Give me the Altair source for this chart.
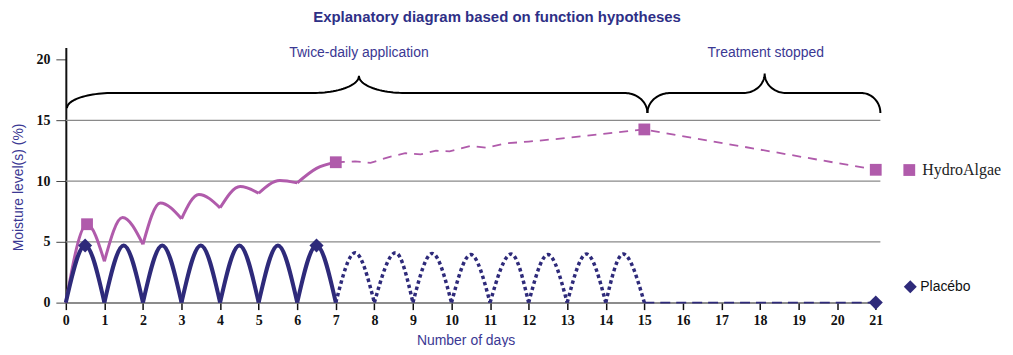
import math
import altair as alt
import pandas as pd

# ---------------- data ----------------
# HydroAlgae, twice-daily application (solid scallops, days 0-7)
hydro_solid_days = [0, 0.55, 1, 1.47, 2, 2.45, 3, 3.45, 4, 4.52, 5, 5.55, 6, 6.5, 7]
hydro_solid_vals = [0, 6.45, 3.4, 7.0, 4.8, 8.2, 6.9, 8.9, 7.8, 9.55, 9.0, 10.05, 9.85, 11.05, 11.55]
# HydroAlgae, continuing (dashed, days 7-21)
hydro_dash_days = [7, 7.5, 7.9, 8.4, 8.8, 9.2, 9.6, 9.95, 10.5, 10.9, 11.4, 12, 13, 14, 15, 21]
hydro_dash_vals = [11.55, 11.62, 11.5, 12.0, 12.3, 12.2, 12.5, 12.45, 12.9, 12.75, 13.1, 13.25, 13.55, 13.9, 14.25, 10.93]
hydro_marker_days = [0.55, 7, 15, 21]
hydro_marker_vals = [6.45, 11.55, 14.25, 10.93]

# Placebo, twice-daily application (solid arches, days 0-7)
placebo_solid_days = [0, 0.5, 1, 1.5, 2, 2.5, 3, 3.5, 4, 4.5, 5, 5.5, 6, 6.5, 7]
placebo_solid_vals = [0, 4.7, 0, 4.7, 0, 4.7, 0, 4.7, 0, 4.7, 0, 4.7, 0, 4.7, 0]
# Placebo, dotted arches (days 7-15)
placebo_dot_days = [7, 7.5, 8, 8.55, 9, 9.5, 10, 10.5, 11, 11.55, 12, 12.5, 13, 13.5, 14, 14.45, 15]
placebo_dot_vals = [0, 4.1, 0, 4.1, 0, 4.05, 0, 3.95, 0, 4.0, 0, 3.95, 0, 4.0, 0, 4.0, 0]
# Placebo after treatment stopped (dashed, days 15-21)
placebo_flat_days = [15, 21]
placebo_flat_vals = [0, 0]
placebo_marker_days = [0.5, 6.5, 21]
placebo_marker_vals = [4.7, 4.7, 0]

x_ticks = list(range(0, 22))
y_ticks = [0, 5, 10, 15, 20]
grid_vals = [5, 10, 15]

phase_labels = ["Twice-daily application", "Treatment stopped"]
phase_label_days = [7.6, 18.15]
phase_label_vals = [20.55, 20.55]

PINK = "#b05bab"
NAVY = "#2e2a7a"
TXT_BLUE = "#3b3893"
TITLE_BLUE = "#2e2f86"


# ---------------- helpers ----------------
def arches(days, vals, name):
    rows = []
    seg = 0
    for k in range(0, len(days) - 2, 2):
        for j in range(3):
            rows.append({"day": days[k + j], "val": vals[k + j], "seg": f"{name}{seg}", "o": j})
        seg += 1
    return pd.DataFrame(rows)


def brace(x0, x1, xm, y_tip_l, y_tip_r, y_h, y_peak, rx_l, rx_r, rx_c, name, n=24):
    pts = []
    # left tip quarter
    cx, cy, ry = x0 + rx_l, y_tip_l, y_h - y_tip_l
    for i in range(n + 1):
        a = math.pi - (math.pi / 2) * i / n
        pts.append((cx + rx_l * math.cos(a), cy + ry * math.sin(a)))
    # left cusp quarter
    cx, cy, ry = xm - rx_c, y_peak, y_peak - y_h
    for i in range(n + 1):
        a = 1.5 * math.pi + (math.pi / 2) * i / n
        pts.append((cx + rx_c * math.cos(a), cy + ry * math.sin(a)))
    # right cusp quarter
    cx = xm + rx_c
    for i in range(n + 1):
        a = math.pi + (math.pi / 2) * i / n
        pts.append((cx + rx_c * math.cos(a), cy + ry * math.sin(a)))
    # right tip quarter
    cx, cy, ry = x1 - rx_r, y_tip_r, y_h - y_tip_r
    for i in range(n + 1):
        a = math.pi / 2 - (math.pi / 2) * i / n
        pts.append((cx + rx_r * math.cos(a), cy + ry * math.sin(a)))
    return pd.DataFrame([{"day": p[0], "val": p[1], "seg": name, "o": i} for i, p in enumerate(pts)])


# ---------------- shared encodings ----------------
X = alt.X(
    "day:Q",
    scale=alt.Scale(domain=[0, 21.12], nice=False, zero=False),
    axis=alt.Axis(
        values=x_ticks, format="d", grid=False,
        labelFont="Liberation Serif", labelFontWeight="bold", labelFontSize=14, labelColor="#111",
        labelPadding=4, labelFlush=False,
        tickColor="#111", tickWidth=1.5, tickSize=7,
        domainColor="#666", domainWidth=1.5,
        title="Number of days", titleFont="Liberation Sans", titleFontSize=14,
        titleFontWeight="normal", titleColor=TXT_BLUE, titlePadding=6,
        titleX=401, titleAlign="center",
    ),
)
Y = alt.Y(
    "val:Q",
    scale=alt.Scale(domain=[0, 21], nice=False, zero=True),
    axis=alt.Axis(
        values=y_ticks, grid=False,
        labelFont="Liberation Serif", labelFontWeight="bold", labelFontSize=14, labelColor="#111",
        labelPadding=6,
        tickColor="#444", tickWidth=1, tickSize=10,
        domainColor="#111", domainWidth=2,
        title="Moisture level(s) (%)", titleFont="Liberation Sans", titleFontSize=14,
        titleFontWeight="normal", titleColor=TXT_BLUE, titlePadding=10,
        titleY=140, titleAlign="center",
    ),
)

# ---------------- layers ----------------
grid = alt.Chart(pd.DataFrame({"val": grid_vals})).mark_rule(color="#8a8a8a", strokeWidth=1.2).encode(y=Y)

braces_df = pd.concat([
    brace(0.03, 15.08, 7.6, 16.0, 15.6, 17.25, 18.65, 1.2, 0.6, 1.2, "b1"),
    brace(15.08, 21.12, 18.12, 15.6, 15.6, 17.25, 18.85, 0.6, 0.5, 0.55, "b2"),
])
braces = alt.Chart(braces_df).mark_line(color="#000", strokeWidth=2, clip=False).encode(
    x=X, y=Y, detail="seg:N", order="o:Q")

hydro_solid = alt.Chart(arches(hydro_solid_days, hydro_solid_vals, "h")).mark_line(
    color=PINK, strokeWidth=3, interpolate="monotone").encode(x=X, y=Y, detail="seg:N", order="o:Q")
hydro_dash = alt.Chart(pd.DataFrame({"day": hydro_dash_days, "val": hydro_dash_vals})).mark_line(
    color=PINK, strokeWidth=1.8, strokeDash=[9, 7]).encode(x=X, y=Y)

placebo_solid = alt.Chart(arches(placebo_solid_days, placebo_solid_vals, "p")).mark_line(
    color=NAVY, strokeWidth=4, interpolate="monotone").encode(x=X, y=Y, detail="seg:N", order="o:Q")
placebo_dot = alt.Chart(arches(placebo_dot_days, placebo_dot_vals, "d")).mark_line(
    color=NAVY, strokeWidth=3.5, strokeDash=[3.5, 3], interpolate="monotone").encode(
    x=X, y=Y, detail="seg:N", order="o:Q")
placebo_flat = alt.Chart(pd.DataFrame({"day": placebo_flat_days, "val": placebo_flat_vals})).mark_line(
    color=NAVY, strokeWidth=2, strokeDash=[10, 6]).encode(x=X, y=Y)

hydro_markers = alt.Chart(pd.DataFrame({"day": hydro_marker_days, "val": hydro_marker_vals})).mark_point(
    shape="square", filled=True, size=140, opacity=1, color=PINK, clip=False).encode(x=X, y=Y)
placebo_markers = alt.Chart(pd.DataFrame({"day": placebo_marker_days, "val": placebo_marker_vals})).mark_point(
    shape="diamond", filled=True, size=200, opacity=1, color=NAVY, clip=False).encode(x=X, y=Y)

phase_text = alt.Chart(pd.DataFrame({"day": phase_label_days, "val": phase_label_vals, "t": phase_labels})).mark_text(
    font="Liberation Sans", fontSize=14, color=TXT_BLUE, align="center", baseline="middle").encode(
    x=X, y=Y, text="t:N")

# legend (custom, at right of plot)
leg_sq = alt.Chart(pd.DataFrame({"k": ["HydroAlgae"]})).mark_point(
    shape="square", filled=True, size=140, opacity=1, color=PINK).encode(x=alt.value(846), y=alt.value(123))
leg_sq_t = alt.Chart(pd.DataFrame({"k": ["HydroAlgae"]})).mark_text(
    font="Liberation Serif", fontSize=16, color="#222", align="left", baseline="middle").encode(
    x=alt.value(859), y=alt.value(123), text="k:N")
leg_di = alt.Chart(pd.DataFrame({"k": ["Placébo"]})).mark_point(
    shape="diamond", filled=True, size=170, opacity=1, color=NAVY).encode(x=alt.value(847), y=alt.value(240))
leg_di_t = alt.Chart(pd.DataFrame({"k": ["Placébo"]})).mark_text(
    font="Liberation Sans", fontSize=14, color="#111", align="left", baseline="middle").encode(
    x=alt.value(857), y=alt.value(240), text="k:N")

chart = alt.layer(
    grid, braces, hydro_dash, hydro_solid, placebo_dot, placebo_flat, placebo_solid,
    hydro_markers, placebo_markers, phase_text, leg_sq, leg_sq_t, leg_di, leg_di_t,
).properties(
    width=817, height=256,
    title=alt.TitleParams(
        "Explanatory diagram based on function hypotheses",
        font="Liberation Sans", fontSize=15, fontWeight="bold", color=TITLE_BLUE,
        anchor="middle", frame="group", dx=24, offset=21,
    ),
    autosize=alt.AutoSizeParams(type="none"),
    padding={"left": 58, "top": 39, "right": 125, "bottom": 44},
).configure_view(stroke=None)

chart.save("out.html", embed_options={"renderer": "svg", "actions": False})
